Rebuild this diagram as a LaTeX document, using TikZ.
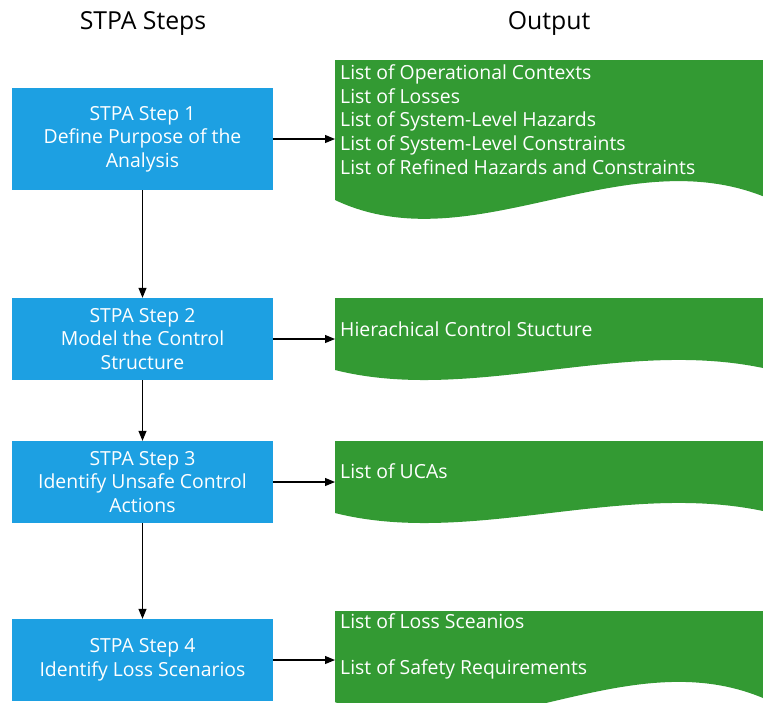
\documentclass[tikz,border=0pt]{standalone}
\usepackage{fontspec}
\setmainfont{Open Sans}
\usetikzlibrary{arrows.meta}
\definecolor{stepblue}{RGB}{29,160,226}
\definecolor{outgreen}{RGB}{51,154,51}
\tikzset{
  stepbox/.style={rectangle, fill=stepblue, text=white, minimum width=261pt,
    align=center, inner sep=0pt, font=\fontsize{19.4}{23.5}\selectfont},
  outtext/.style={anchor=west, text=white, align=left, inner sep=0pt,
    font=\fontsize{19.4}{23.7}\selectfont},
  flow/.style={draw=black, line width=1.1pt, -{Triangle[length=10pt,width=8pt]}},
  header/.style={font=\fontsize{24.8}{28}\selectfont},
  docfill/.style={fill=outgreen}
}
% green "document" shape with a wavy lower edge:
% name, top y, lower-left y, wave amplitude factor
\newcommand\outdoc[4]{%
  \fill[docfill] (335,#2) -- (763,#2) -- (763,{#3-0.2*#4})
    .. controls (620,{#3-3.2*#4}) and (470,{#3+3.4*#4}) .. (335,#3) -- cycle;
  \coordinate (#1) at (335,#2);}
\begin{document}
\begin{tikzpicture}[x=1pt,y=-1pt]
\useasboundingbox (0,0) rectangle (763,702);

% column headers
\node[header] (hsteps) at (143,23.5) {STPA Steps};
\node[header] (hout) at (549,23.5) {Output};

% STPA steps
\node[stepbox, minimum height=102pt] (s1) at (142.5,139) {STPA Step 1\\Define Purpose of the\\Analysis};
\node[stepbox, minimum height=82pt] (s2) at (142.5,339) {STPA Step 2\\Model the Control\\Structure};
\node[stepbox, minimum height=82pt] (s3) at (142.5,482) {STPA Step 3\\Identify Unsafe Control\\Actions};
\node[stepbox, minimum height=82pt] (s4) at (142.5,660) {STPA Step 4\\Identify Loss Scenarios};

% outputs
\outdoc{d1}{60}{200}{18.8}
\outdoc{d2}{298}{370}{10}
\outdoc{d3}{441}{513}{10}
\outdoc{d4}{611}{702}{20}

\node[outtext] (o1) at (340,119.5) {List of Operational Contexts\\List of Losses\\List of System-Level Hazards\\List of System-Level Constraints\\List of Refined Hazards and Constraints};
\node[outtext] (o2) at (340,329) {Hierachical Control Stucture};
\node[outtext] (o3) at (340,471) {List of UCAs};
\node[outtext] (o4) at (340,646) {List of Loss Sceanios\\[22.5pt]List of Safety Requirements};

% connectors
\draw[flow] (s1) -- (s2);
\draw[flow] (s2) -- (s3);
\draw[flow] (s3) -- (s4);
\draw[flow] (s1.east) -- (s1.east -| d1);
\draw[flow] (s2.east) -- (s2.east -| d2);
\draw[flow] (s3.east) -- (s3.east -| d3);
\draw[flow] (s4.east) -- (s4.east -| d4);
\end{tikzpicture}
\end{document}
